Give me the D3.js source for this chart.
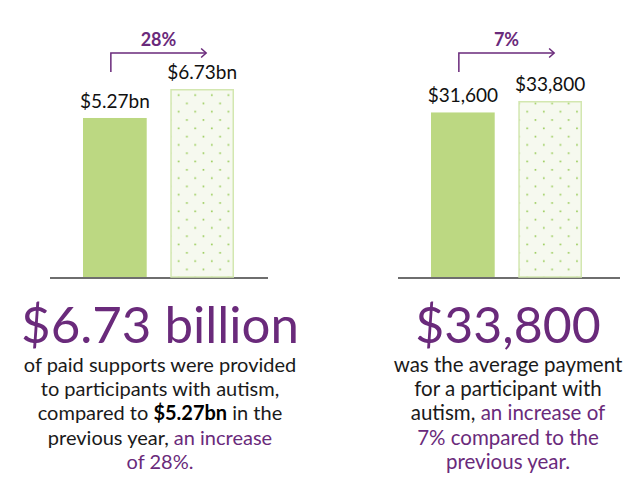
<!DOCTYPE html>
<html><head><meta charset="utf-8">
<script src="https://cdn.jsdelivr.net/npm/d3@7"></script>
<style>
html,body{margin:0;padding:0;background:#fff;}
svg{display:block;font-family:Lato,"Open Sans",sans-serif;}
</style></head>
<body><svg id="chart" width="642" height="491"></svg>
<script>
// Data
const supportsLabels = ["$5.27bn", "$6.73bn"];
const supportsValues = [5.27, 6.73];
const supportsChange = "28%";
const paymentLabels = ["$31,600", "$33,800"];
const paymentValues = [31600, 33800];
const paymentChange = "7%";
const years = ["previous", "current"];

const purple = "#6a2a7b", green = "#bcd882", dotGreen = "#93c94f", lightFill = "#f6f9ef", lightStroke = "#d3e7b0";
const svg = d3.select("#chart");

const defs = svg.append("defs");
const pat = defs.append("pattern").attr("id","dots").attr("patternUnits","userSpaceOnUse")
  .attr("width",16.6).attr("height",16.6).attr("x",0).attr("y",0);
pat.append("rect").attr("width",16.6).attr("height",16.6).attr("fill",lightFill);
pat.append("rect").attr("x",3.5).attr("y",3).attr("width",1.6).attr("height",1.6).attr("fill",dotGreen);
pat.append("rect").attr("x",11.8).attr("y",11.3).attr("width",1.6).attr("height",1.6).attr("fill",dotGreen);

function panel(cfg){
  const g = svg.append("g");
  const x = d3.scaleBand().domain(years).range(cfg.xr).paddingInner(0.27).paddingOuter(0);
  const y = d3.scaleLinear().domain(cfg.yd).range([277, cfg.yTop]);
  g.append("line").attr("x1",cfg.base[0]).attr("x2",cfg.base[1]).attr("y1",278).attr("y2",278)
    .attr("stroke","#6e6e6e").attr("stroke-width",2);
  g.selectAll("rect.bar").data(cfg.values).join("rect").attr("class","bar")
    .attr("x",(d,i)=>x(years[i]) + (i==1?0.75:0))
    .attr("width",(d,i)=>x.bandwidth() - (i==1?1.5:0))
    .attr("y",(d,i)=>y(d) + (i==1?0.75:0))
    .attr("height",(d,i)=>277 - y(d) - (i==1?0.75:0))
    .attr("fill",(d,i)=>i==0?green:"url(#dots)")
    .attr("stroke",(d,i)=>i==0?"none":lightStroke).attr("stroke-width",1.5);
  g.selectAll("text.val").data(cfg.values).join("text").attr("class","val")
    .attr("x",(d,i)=>x(years[i]) + x.bandwidth()/2)
    .attr("y",d=>y(d)-10)
    .attr("text-anchor","middle").attr("font-size",19).attr("fill","#111")
    .text((d,i)=>cfg.labels[i]);
  const ax = x(years[0]) + x.bandwidth()/2 - 4;
  const ex = x(years[1]) + x.bandwidth()/2 + 4;
  g.append("path").attr("d",`M${ax},72V53H${ex}`).attr("fill","none").attr("stroke",purple).attr("stroke-width",1.5);
  g.append("path").attr("d",`M${ex-5},48.5L${ex},53L${ex-5},57.5`).attr("fill","none").attr("stroke",purple).attr("stroke-width",1.5);
  g.append("text").attr("x",(ax+ex)/2).attr("y",46).attr("text-anchor","middle")
    .attr("font-size",18).attr("font-weight",700).attr("fill",purple).text(cfg.change);
  g.append("text").attr("x",cfg.cx).attr("y",343).attr("text-anchor","middle")
    .attr("font-size",cfg.bigSize).attr("fill",purple).text(cfg.big);
  const body = g.append("text").attr("text-anchor","middle").attr("font-size",cfg.bodySize).attr("fill","#1a1a1a");
  cfg.lines.forEach((line,li)=>{
    const t = body.append("tspan").attr("x",cfg.cx).attr("y",372 + li*24.2);
    line.forEach(seg=>{
      const s = t.append("tspan").text(seg.t);
      if(seg.c) s.attr("fill",purple);
      if(seg.b) s.attr("font-weight",700).attr("fill","#000");
    });
  });
}

panel({xr:[83,234], yd:[-2.74, 6.73], yTop:89, values:supportsValues, labels:supportsLabels, change:supportsChange,
  base:[50,268], cx:160, big:"$6.73 billion", bigSize:51, bodySize:20,
  lines:[[{t:"of paid supports were provided"}],[{t:"to participants with autism,"}],
    [{t:"compared to "},{t:"$5.27bn",b:true},{t:" in the"}],[{t:"previous year, "},{t:"an increase",c:true}],[{t:"of 28%.",c:true}]]});
panel({xr:[431,582], yd:[0, 33800], yTop:101, values:paymentValues, labels:paymentLabels, change:paymentChange,
  base:[398,620], cx:508, big:"$33,800", bigSize:50, bodySize:20.5,
  lines:[[{t:"was the average payment"}],[{t:"for a participant with"}],
    [{t:"autism, "},{t:"an increase of",c:true}],[{t:"7% compared to the",c:true}],[{t:"previous year.",c:true}]]});
</script></body></html>
